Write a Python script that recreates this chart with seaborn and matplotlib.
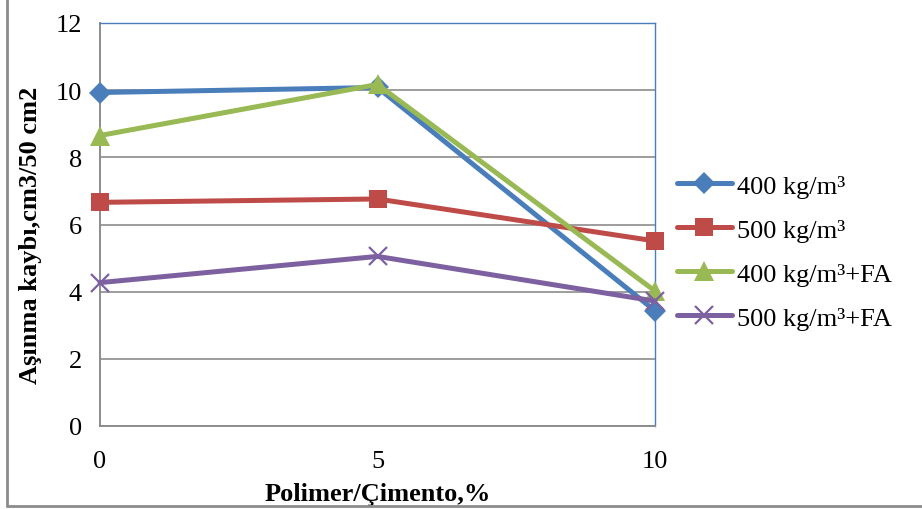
import numpy as np
import pandas as pd
import matplotlib
matplotlib.use('Agg')
import matplotlib.pyplot as plt
import seaborn as sns
from matplotlib.lines import Line2D

sns.set_style('white')
plt.rcParams['font.family'] = ['Liberation Serif', 'DejaVu Serif']
plt.rcParams['text.color'] = 'black'
plt.rcParams['axes.labelcolor'] = 'black'
plt.rcParams['xtick.color'] = 'black'
plt.rcParams['ytick.color'] = 'black'

# data
polimer = [0, 5, 10]
s400 = [9.93, 10.08, 3.43]
s500 = [6.66, 6.76, 5.51]
s400_fa = [8.65, 10.17, 4.02]
s500_fa = [4.27, 5.05, 3.72]

labels = ['400 kg/m³', '500 kg/m³', '400 kg/m³+FA', '500 kg/m³+FA']
colors = ['#4A7EBB', '#BE4B48', '#98B954', '#7D60A0']
markers = ['D', 's', '^', 'x']
msizes = [11, 13, 14, 13]

fig = plt.figure(figsize=(9.22, 5.10), dpi=100)
ax = fig.add_axes([100 / 922, 1 - 427 / 510, 555 / 922, 403 / 510])

series = [s400, s500, s400_fa, s500_fa]
for vals, lab, c, m, ms in zip(series, labels, colors, markers, msizes):
    df = pd.DataFrame({'x': polimer, 'y': vals})
    sns.lineplot(data=df, x='x', y='y', ax=ax, color=c, linewidth=3.6,
                 marker=m, markersize=ms, markeredgewidth=1.6 if m == 'x' else 0,
                 markeredgecolor=c, label=lab, zorder=3, clip_on=False)

ax.set_xlim(0, 10)
ax.set_ylim(0, 12)
ax.set_xticks([0, 5, 10])
ax.set_yticks(np.arange(0, 13, 2))
ax.yaxis.grid(True, color='#8C8C8C', linewidth=1.2)
ax.set_axisbelow(True)

for side in ['top', 'right']:
    ax.spines[side].set_color('#4A7EBB')
    ax.spines[side].set_linewidth(1.0)
for side in ['left', 'bottom']:
    ax.spines[side].set_color('#8C8C8C')
    ax.spines[side].set_linewidth(1.4)

ax.tick_params(axis='both', direction='out', length=5, width=1.2, color='#8C8C8C',
               labelsize=19, pad=8)
ax.tick_params(axis='x', pad=12)
ax.set_xlabel('Polimer/Çimento,%', fontsize=19, fontweight='bold')
ax.set_ylabel('Aşınma kaybı,cm3/50 cm2', fontsize=19, fontweight='bold')
ax.xaxis.set_label_coords(0.5, -0.138)
ax.yaxis.set_label_coords(-0.104, 0.475)

ax.legend(loc='center left', bbox_to_anchor=(1.02, 0.432), frameon=False,
          fontsize=19, handlelength=2.1, handletextpad=0.2, labelspacing=0.78,
          borderaxespad=0)

# outer chart frame (only left and bottom edges are visible in the crop)
fig.lines.append(Line2D([7 / 922, 7 / 922], [1, 3 / 510], transform=fig.transFigure,
                        color='#8C8C8C', linewidth=2))
fig.lines.append(Line2D([7 / 922, 1], [3 / 510, 3 / 510], transform=fig.transFigure,
                        color='#8C8C8C', linewidth=2))

fig.savefig('out.png', dpi=100)
